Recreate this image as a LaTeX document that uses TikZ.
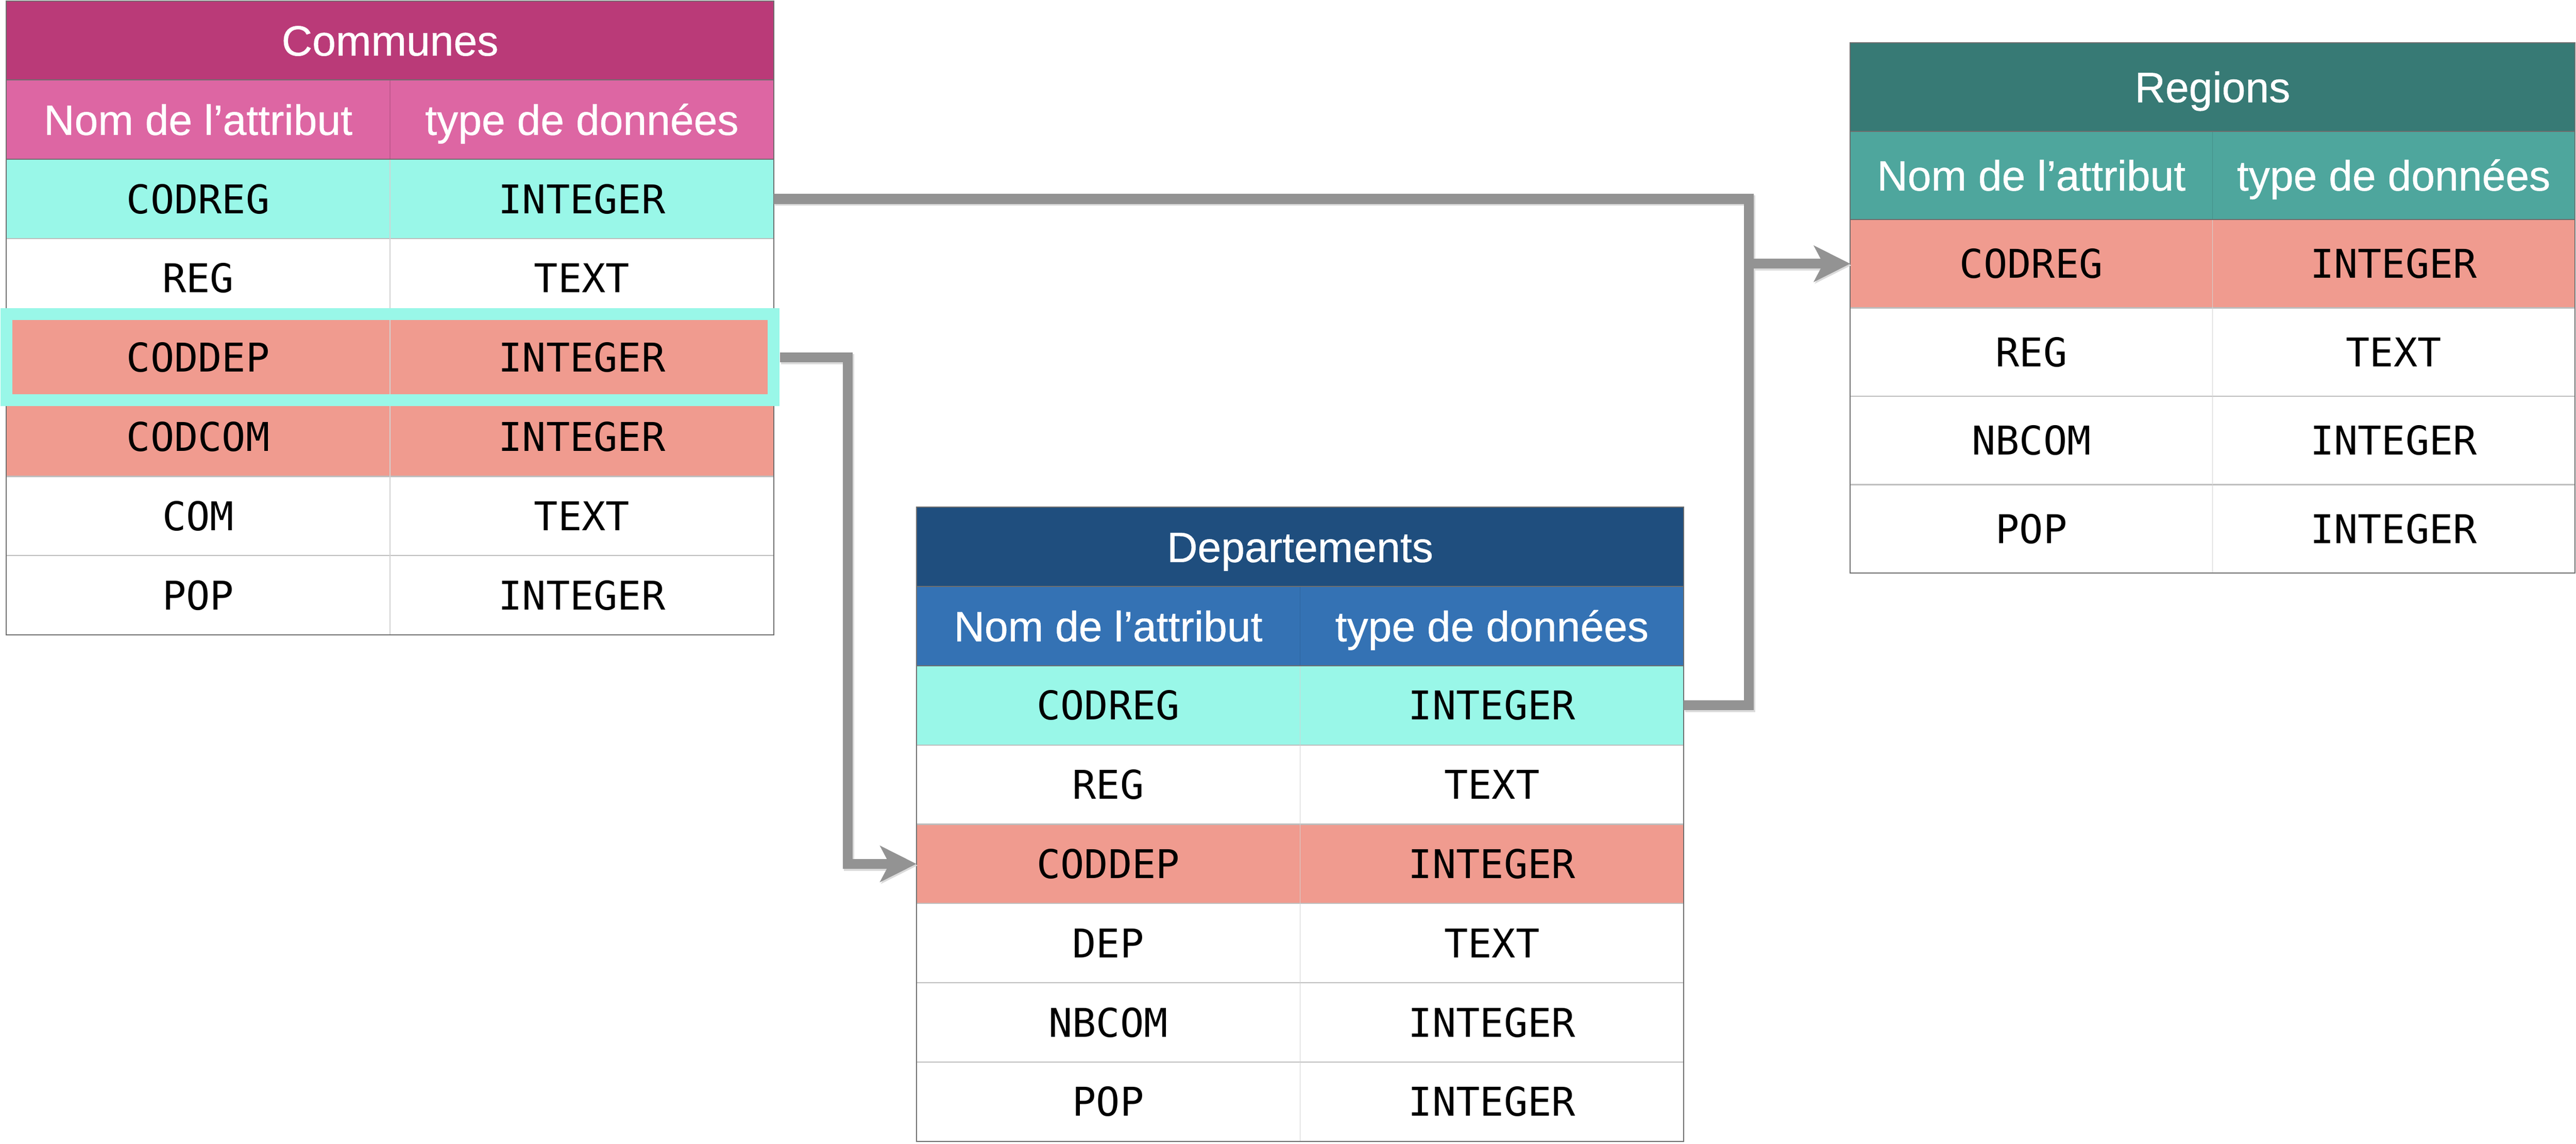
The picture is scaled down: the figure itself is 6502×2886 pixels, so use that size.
\documentclass[tikz,border=0pt]{standalone}
\usepackage{fontspec}
\setmainfont{Liberation Sans}
\setmonofont{DejaVu Sans Mono}
\newfontfamily\hdrfam{Liberation Sans}[RawFeature={embolden=0.6}]
\usetikzlibrary{arrows.meta}
\definecolor{comT}{HTML}{BA3A78}
\definecolor{comS}{HTML}{DD66A3}
\definecolor{depT}{HTML}{1F4E7E}
\definecolor{depS}{HTML}{3472B4}
\definecolor{regT}{HTML}{377A75}
\definecolor{regS}{HTML}{4EA69D}
\definecolor{cyanrow}{HTML}{99F7E8}
\definecolor{salmon}{HTML}{F09B8F}
\definecolor{connc}{HTML}{939393}
\definecolor{rulec}{HTML}{BDBDBD}
\definecolor{colrulec}{HTML}{D2D2D2}
\definecolor{borderc}{HTML}{6E6E6E}
\newcommand{\hdrfont}{\hdrfam\fontsize{10.7}{12}\selectfont}
\newcommand{\datfont}{\ttfamily\fontsize{10}{12}\selectfont}
\newcommand{\dbtable}[9]{%
  \pgfmathsetmacro{\cw}{#4/2}%
  \node[hcell, fill=#6, minimum width={#4*0.1pt}, minimum height={#5*0.1pt}] (#1-t) at ({#2+#4/2},{#3+#5/2}) {#8};
  \node[hcell, fill=#7, minimum width={\cw*0.1pt}, minimum height={#5*0.1pt}] (#1-ha) at ({#2+\cw/2},{#3+1.5*#5}) {Nom de l’attribut};
  \node[hcell, fill=#7, minimum width={\cw*0.1pt}, minimum height={#5*0.1pt}] (#1-hb) at ({#2+1.5*\cw},{#3+1.5*#5}) {type de données};
  \foreach \nm/\ty/\fl [count=\i] in {#9} {
    \node[dcell, fill=\fl, minimum width={\cw*0.1pt}, minimum height={#5*0.1pt}] (#1-\i-a) at ({#2+\cw/2},{#3+(\i+1.5)*#5}) {\nm};
    \node[dcell, fill=\fl, minimum width={\cw*0.1pt}, minimum height={#5*0.1pt}] (#1-\i-b) at ({#2+1.5*\cw},{#3+(\i+1.5)*#5}) {\ty};
    \xdef\lastrow{\i}
  }
  \foreach \i in {2,...,\lastrow} \draw[rowrule] (#1-\i-a.north west) -- (#1-\i-b.north east);
  \foreach \i in {1,...,\lastrow} \draw[colrule] (#1-\i-a.north east) -- (#1-\i-a.south east);
  \draw[subrule] (#1-ha.north east) -- (#1-ha.south east);
  \draw[hdrrule] (#1-t.south west) -- (#1-t.south east);
  \draw[hdrrule] (#1-ha.south west) -- (#1-hb.south east);
  \draw[tblborder] (#1-t.north west) rectangle (#1-\lastrow-b.south east);
}
\newcommand{\connectors}[1]{%
  \draw[#1] (com-1-b.east) -| (jA |- dep-1-b.east) -- (dep-1-b.east);
  \draw[#1, -{Stealth[length=9.1pt,width=9pt,inset=2.3pt]}] (jA |- reg-1-a.west) -- (reg-1-a.west);
  \draw[#1, -{Stealth[length=9.1pt,width=9pt,inset=2.3pt]}] ([xshift=1.6pt]com-3-b.east) -| (jB |- dep-3-a.west) -- (dep-3-a.west);
}
\begin{document}
\begin{tikzpicture}[x=0.1pt,y=-0.1pt,
  cellbox/.style={rectangle, inner sep=0pt, outer sep=0pt, anchor=center},
  hcell/.style={cellbox, text=white, font=\hdrfont, text height=7.66pt, text depth=0pt},
  dcell/.style={cellbox, text=black, font=\datfont, text height=7.29pt, text depth=0pt},
  rowrule/.style={draw=rulec, line width=0.3pt},
  colrule/.style={draw=colrulec, line width=0.2pt},
  subrule/.style={draw=black, draw opacity=0.12, line width=0.2pt},
  hdrrule/.style={draw=borderc, line width=0.25pt},
  tblborder/.style={draw=borderc, line width=0.25pt},
  conn/.style={draw=connc, line width=2.5pt, line join=miter},
  connshadow/.style={draw=black!14, line width=2.6pt, line join=miter}]
\useasboundingbox (0,0) rectangle (6502,2886);
\fill[white] (0,0) rectangle (6502,2886);
\dbtable{com}{16}{2}{1937}{200}{comT}{comS}{Communes}{CODREG/INTEGER/cyanrow, REG/TEXT/white, CODDEP/INTEGER/salmon, CODCOM/INTEGER/salmon, COM/TEXT/white, POP/INTEGER/white}
\dbtable{dep}{2313}{1280}{1937}{200}{depT}{depS}{Departements}{CODREG/INTEGER/cyanrow, REG/TEXT/white, CODDEP/INTEGER/salmon, DEP/TEXT/white, NBCOM/INTEGER/white, POP/INTEGER/white}
\dbtable{reg}{4670}{108}{1829}{223}{regT}{regS}{Regions}{CODREG/INTEGER/salmon, REG/TEXT/white, NBCOM/INTEGER/white, POP/INTEGER/white}
% highlight frame around CODDEP in Communes
\draw[cyanrow, line width=3pt] ([yshift=1pt]com-3-a.north west) rectangle ([yshift=-0.8pt]com-3-b.south east);
\coordinate (jA) at (4414,505);
\coordinate (jB) at (2140,903);
\begin{scope}[transform canvas={shift={(0.3pt,-0.4pt)}}]
\connectors{connshadow}
\end{scope}
\connectors{conn}
\end{tikzpicture}
\end{document}
